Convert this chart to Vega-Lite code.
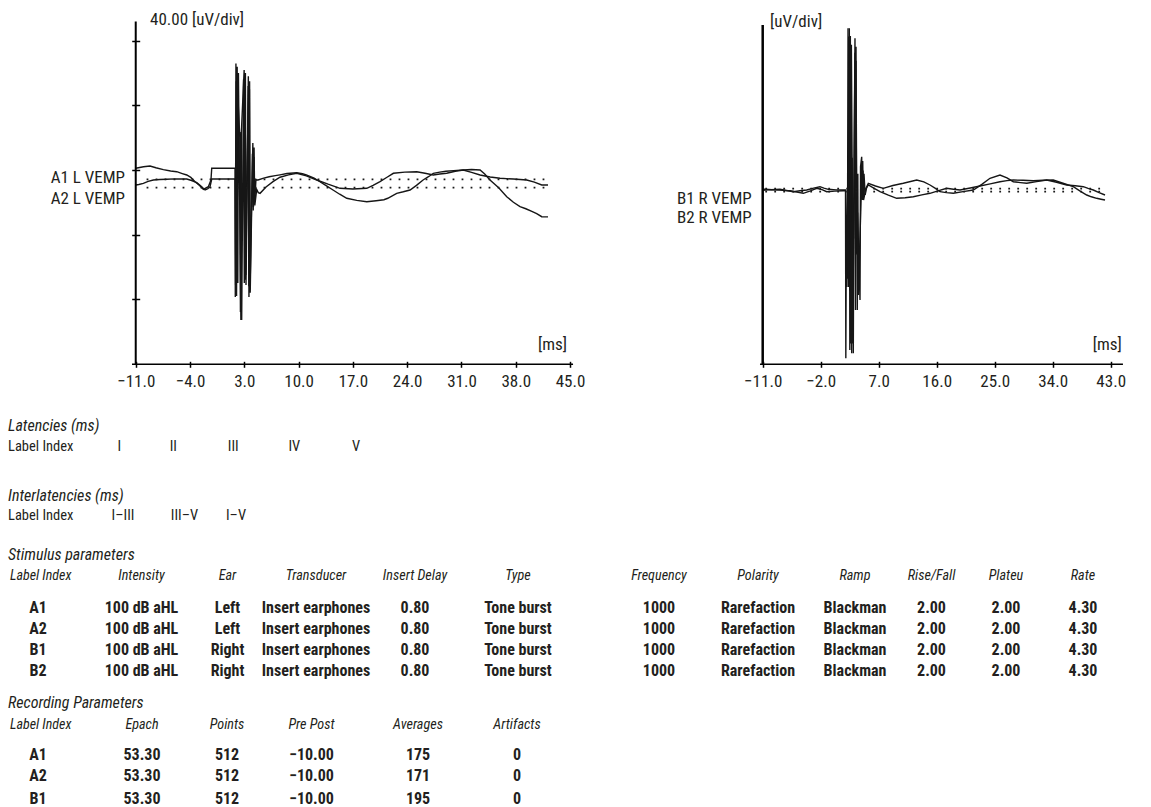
{
  "$schema": "https://vega.github.io/schema/vega-lite/v6.json",
  "background": "white",
  "padding": {"left": 8, "top": 10, "right": 0, "bottom": 0},
  "config": {
    "view": {"stroke": null},
    "font": "Roboto Condensed, Lato, sans-serif",
    "text": {"color": "#231f20", "font": "Roboto Condensed, Lato, sans-serif"},
    "axis": {"labelFont": "Roboto Condensed, Lato, sans-serif", "labelColor": "#231f20"}
  },
  "datasets": {
    "left": [
      {"trace":"A1","ms":-11.0,"uv":1.05},{"trace":"A1","ms":-10.0,"uv":2.0},{"trace":"A1","ms":-9.16,"uv":2.48},{"trace":"A1","ms":-8.4,"uv":1.4},{"trace":"A1","ms":-7.44,"uv":0.2},{"trace":"A1","ms":-6.5,"uv":-0.6},{"trace":"A1","ms":-5.71,"uv":-1.05},{"trace":"A1","ms":-5.0,"uv":-2.2},{"trace":"A1","ms":-4.42,"uv":-3.1},{"trace":"A1","ms":-3.9,"uv":-4.6},{"trace":"A1","ms":-3.35,"uv":-7.24},{"trace":"A1","ms":-2.8,"uv":-9.5},{"trace":"A1","ms":-2.28,"uv":-11.95},{"trace":"A1","ms":-1.64,"uv":-10.34},{"trace":"A1","ms":-1.3,"uv":-6.2},{"trace":"A1","ms":-1.2,"uv":1.05},{"trace":"A1","ms":1.8,"uv":1.05},
      {"trace":"A1","ms":1.84,"uv":-78.6},{"trace":"A1","ms":1.92,"uv":66.0},{"trace":"A1","ms":2.0,"uv":-78.0},{"trace":"A1","ms":2.08,"uv":64.0},{"trace":"A1","ms":2.16,"uv":-70.0},{"trace":"A1","ms":2.24,"uv":60.0},{"trace":"A1","ms":2.56,"uv":-92.9},{"trace":"A1","ms":2.62,"uv":23.5},{"trace":"A1","ms":2.98,"uv":61.9},{"trace":"A1","ms":3.06,"uv":-68.0},{"trace":"A1","ms":3.14,"uv":60.0},{"trace":"A1","ms":3.22,"uv":-71.2},{"trace":"A1","ms":3.52,"uv":58.0},{"trace":"A1","ms":3.6,"uv":-78.6},{"trace":"A1","ms":3.68,"uv":55.0},{"trace":"A1","ms":3.76,"uv":-76.0},{"trace":"A1","ms":4.1,"uv":16.7},{"trace":"A1","ms":4.18,"uv":-22.9},{"trace":"A1","ms":4.26,"uv":14.0},{"trace":"A1","ms":4.34,"uv":-20.0},{"trace":"A1","ms":4.5,"uv":-6.0},
      {"trace":"A1","ms":4.77,"uv":-6.19},{"trace":"A1","ms":5.5,"uv":-5.0},{"trace":"A1","ms":6.2,"uv":-4.2},{"trace":"A1","ms":7.0,"uv":-3.5},{"trace":"A1","ms":7.6,"uv":-3.0},{"trace":"A1","ms":8.5,"uv":-2.2},{"trace":"A1","ms":9.76,"uv":-1.67},{"trace":"A1","ms":10.5,"uv":-2.3},{"trace":"A1","ms":11.0,"uv":-3.0},{"trace":"A1","ms":12.0,"uv":-5.0},{"trace":"A1","ms":12.5,"uv":-6.5},{"trace":"A1","ms":13.5,"uv":-9.5},{"trace":"A1","ms":14.44,"uv":-12.38},{"trace":"A1","ms":15.3,"uv":-15.0},{"trace":"A1","ms":16.21,"uv":-17.52},{"trace":"A1","ms":17.5,"uv":-18.8},{"trace":"A1","ms":18.79,"uv":-19.63},{"trace":"A1","ms":20.0,"uv":-19.0},{"trace":"A1","ms":21.0,"uv":-18.4},{"trace":"A1","ms":21.5,"uv":-17.5},{"trace":"A1","ms":22.65,"uv":-14.43},{"trace":"A1","ms":23.5,"uv":-13.5},{"trace":"A1","ms":24.37,"uv":-12.38},{"trace":"A1","ms":25.2,"uv":-9.5},{"trace":"A1","ms":26.05,"uv":-6.19},{"trace":"A1","ms":26.8,"uv":-4.0},{"trace":"A1","ms":27.37,"uv":-2.04},{"trace":"A1","ms":28.2,"uv":-1.3},{"trace":"A1","ms":29.0,"uv":-0.8},{"trace":"A1","ms":30.0,"uv":-0.4},{"trace":"A1","ms":31.24,"uv":0.0},{"trace":"A1","ms":32.3,"uv":0.3},{"trace":"A1","ms":33.4,"uv":0.0},{"trace":"A1","ms":34.0,"uv":-2.5},{"trace":"A1","ms":34.68,"uv":-6.19},{"trace":"A1","ms":35.8,"uv":-11.0},{"trace":"A1","ms":36.84,"uv":-16.53},{"trace":"A1","ms":37.7,"uv":-20.0},{"trace":"A1","ms":38.55,"uv":-22.72},{"trace":"A1","ms":39.3,"uv":-24.0},{"trace":"A1","ms":40.0,"uv":-25.5},{"trace":"A1","ms":40.7,"uv":-27.0},{"trace":"A1","ms":41.35,"uv":-28.92},{"trace":"A1","ms":42.16,"uv":-29.0},
      {"trace":"A2","ms":-11.0,"uv":-9.29},{"trace":"A2","ms":-10.6,"uv":-9.0},{"trace":"A2","ms":-10.02,"uv":-8.24},{"trace":"A2","ms":-9.4,"uv":-7.0},{"trace":"A2","ms":-8.73,"uv":-6.19},{"trace":"A2","ms":-7.9,"uv":-5.9},{"trace":"A2","ms":-7.0,"uv":-5.76},{"trace":"A2","ms":-6.0,"uv":-5.5},{"trace":"A2","ms":-5.0,"uv":-5.6},{"trace":"A2","ms":-4.42,"uv":-5.57},{"trace":"A2","ms":-3.8,"uv":-6.5},{"trace":"A2","ms":-3.13,"uv":-7.86},{"trace":"A2","ms":-2.6,"uv":-10.0},{"trace":"A2","ms":-2.06,"uv":-12.38},{"trace":"A2","ms":-1.7,"uv":-11.5},{"trace":"A2","ms":-1.42,"uv":-10.34},{"trace":"A2","ms":-1.2,"uv":-5.57},{"trace":"A2","ms":1.8,"uv":-5.57},
      {"trace":"A2","ms":1.88,"uv":-71.2},{"trace":"A2","ms":1.96,"uv":55.0},{"trace":"A2","ms":2.04,"uv":-70.0},{"trace":"A2","ms":2.12,"uv":50.0},{"trace":"A2","ms":2.42,"uv":20.0},{"trace":"A2","ms":2.5,"uv":-88.0},{"trace":"A2","ms":2.58,"uv":23.5},{"trace":"A2","ms":2.66,"uv":-92.9},{"trace":"A2","ms":2.9,"uv":56.0},{"trace":"A2","ms":3.0,"uv":-70.0},{"trace":"A2","ms":3.1,"uv":58.0},{"trace":"A2","ms":3.2,"uv":-65.0},{"trace":"A2","ms":3.5,"uv":52.0},{"trace":"A2","ms":3.58,"uv":-72.0},{"trace":"A2","ms":3.66,"uv":50.0},{"trace":"A2","ms":3.74,"uv":-74.0},{"trace":"A2","ms":4.05,"uv":10.0},{"trace":"A2","ms":4.15,"uv":-25.0},{"trace":"A2","ms":4.25,"uv":8.0},{"trace":"A2","ms":4.35,"uv":-22.0},{"trace":"A2","ms":4.6,"uv":-12.0},{"trace":"A2","ms":4.8,"uv":-14.0},
      {"trace":"A2","ms":5.03,"uv":-14.43},{"trace":"A2","ms":5.8,"uv":-10.5},{"trace":"A2","ms":6.7,"uv":-7.24},{"trace":"A2","ms":7.6,"uv":-4.5},{"trace":"A2","ms":8.7,"uv":-3.0},{"trace":"A2","ms":9.76,"uv":-2.04},{"trace":"A2","ms":11.0,"uv":-3.6},{"trace":"A2","ms":12.34,"uv":-6.19},{"trace":"A2","ms":13.8,"uv":-8.8},{"trace":"A2","ms":15.34,"uv":-11.33},{"trace":"A2","ms":17.0,"uv":-11.8},{"trace":"A2","ms":18.79,"uv":-11.33},{"trace":"A2","ms":19.6,"uv":-9.5},{"trace":"A2","ms":20.5,"uv":-7.24},{"trace":"A2","ms":21.4,"uv":-4.5},{"trace":"A2","ms":22.22,"uv":-2.04},{"trace":"A2","ms":23.7,"uv":-1.3},{"trace":"A2","ms":25.23,"uv":-1.05},{"trace":"A2","ms":26.3,"uv":-2.0},{"trace":"A2","ms":27.37,"uv":-3.1},{"trace":"A2","ms":28.2,"uv":-2.5},{"trace":"A2","ms":29.1,"uv":-2.04},{"trace":"A2","ms":30.2,"uv":-0.8},{"trace":"A2","ms":31.24,"uv":0.0},{"trace":"A2","ms":32.3,"uv":-1.5},{"trace":"A2","ms":33.4,"uv":-3.1},{"trace":"A2","ms":34.7,"uv":-4.3},{"trace":"A2","ms":35.97,"uv":-5.14},{"trace":"A2","ms":37.7,"uv":-5.6},{"trace":"A2","ms":39.42,"uv":-6.19},{"trace":"A2","ms":40.4,"uv":-7.5},{"trace":"A2","ms":41.35,"uv":-9.29},{"trace":"A2","ms":42.16,"uv":-9.3}
    ],
    "right": [
      {"trace":"B1","ms":-11.0,"uv":0.43},{"trace":"B1","ms":-10.64,"uv":0.43},{"trace":"B1","ms":-9.5,"uv":0.2},{"trace":"B1","ms":-8.32,"uv":0.0},{"trace":"B1","ms":-7.5,"uv":-0.3},{"trace":"B1","ms":-6.76,"uv":-0.43},{"trace":"B1","ms":-5.7,"uv":-1.3},{"trace":"B1","ms":-4.7,"uv":-2.04},{"trace":"B1","ms":-3.6,"uv":-0.5},{"trace":"B1","ms":-2.62,"uv":1.05},{"trace":"B1","ms":-1.8,"uv":0.2},{"trace":"B1","ms":-1.07,"uv":-1.05},{"trace":"B1","ms":0.2,"uv":-0.7},{"trace":"B1","ms":1.51,"uv":-0.43},{"trace":"B1","ms":1.85,"uv":-0.43},
      {"trace":"B1","ms":1.9,"uv":-104.2},{"trace":"B1","ms":1.98,"uv":-26.6},{"trace":"B1","ms":2.06,"uv":-60.0},{"trace":"B1","ms":2.14,"uv":-28.0},{"trace":"B1","ms":2.22,"uv":-55.0},{"trace":"B1","ms":2.3,"uv":-30.0},{"trace":"B1","ms":2.44,"uv":100.1},{"trace":"B1","ms":2.52,"uv":-99.1},{"trace":"B1","ms":2.6,"uv":95.4},{"trace":"B1","ms":2.68,"uv":-95.0},{"trace":"B1","ms":2.76,"uv":90.0},{"trace":"B1","ms":3.06,"uv":-101.1},{"trace":"B1","ms":3.14,"uv":-10.0},{"trace":"B1","ms":3.32,"uv":93.9},{"trace":"B1","ms":3.4,"uv":-74.3},{"trace":"B1","ms":3.48,"uv":88.7},{"trace":"B1","ms":3.56,"uv":-20.0},{"trace":"B1","ms":3.64,"uv":-40.0},{"trace":"B1","ms":3.72,"uv":-14.0},{"trace":"B1","ms":4.1,"uv":-68.1},{"trace":"B1","ms":4.18,"uv":14.4},{"trace":"B1","ms":4.36,"uv":20.6},{"trace":"B1","ms":4.44,"uv":-6.2},{"trace":"B1","ms":4.52,"uv":18.0},{"trace":"B1","ms":4.6,"uv":-5.0},{"trace":"B1","ms":4.72,"uv":10.0},{"trace":"B1","ms":4.9,"uv":-3.0},{"trace":"B1","ms":5.14,"uv":2.0},
      {"trace":"B1","ms":5.39,"uv":4.15},{"trace":"B1","ms":6.5,"uv":2.5},{"trace":"B1","ms":7.71,"uv":1.05},{"trace":"B1","ms":9.2,"uv":2.8},{"trace":"B1","ms":10.82,"uv":4.15},{"trace":"B1","ms":12.9,"uv":6.19},{"trace":"B1","ms":14.0,"uv":5.0},{"trace":"B1","ms":14.96,"uv":3.1},{"trace":"B1","ms":15.8,"uv":1.0},{"trace":"B1","ms":16.51,"uv":-1.05},{"trace":"B1","ms":17.5,"uv":-1.6},{"trace":"B1","ms":18.58,"uv":-2.04},{"trace":"B1","ms":20.1,"uv":-1.0},{"trace":"B1","ms":21.68,"uv":0.0},{"trace":"B1","ms":23.0,"uv":3.5},{"trace":"B1","ms":24.27,"uv":7.24},{"trace":"B1","ms":25.82,"uv":9.29},{"trace":"B1","ms":26.9,"uv":7.5},{"trace":"B1","ms":27.89,"uv":5.14},{"trace":"B1","ms":29.0,"uv":4.6},{"trace":"B1","ms":29.97,"uv":4.15},{"trace":"B1","ms":31.5,"uv":5.2},{"trace":"B1","ms":33.07,"uv":6.19},{"trace":"B1","ms":34.6,"uv":4.8},{"trace":"B1","ms":36.17,"uv":3.1},{"trace":"B1","ms":37.5,"uv":2.6},{"trace":"B1","ms":38.75,"uv":2.04},{"trace":"B1","ms":39.5,"uv":1.0},{"trace":"B1","ms":40.3,"uv":0.0},{"trace":"B1","ms":41.2,"uv":-1.6},{"trace":"B1","ms":42.12,"uv":-3.1},
      {"trace":"B2","ms":-11.0,"uv":-0.2},{"trace":"B2","ms":-9.7,"uv":0.2},{"trace":"B2","ms":-8.32,"uv":0.43},{"trace":"B2","ms":-7.3,"uv":-0.3},{"trace":"B2","ms":-6.25,"uv":-1.05},{"trace":"B2","ms":-5.2,"uv":-0.5},{"trace":"B2","ms":-4.17,"uv":0.0},{"trace":"B2","ms":-3.1,"uv":1.2},{"trace":"B2","ms":-2.11,"uv":2.04},{"trace":"B2","ms":-1.5,"uv":1.2},{"trace":"B2","ms":-0.82,"uv":0.43},{"trace":"B2","ms":0.4,"uv":0.1},{"trace":"B2","ms":1.51,"uv":0.0},{"trace":"B2","ms":1.88,"uv":0.0},
      {"trace":"B2","ms":2.0,"uv":-26.6},{"trace":"B2","ms":2.08,"uv":-50.0},{"trace":"B2","ms":2.16,"uv":-30.0},{"trace":"B2","ms":2.24,"uv":100.1},{"trace":"B2","ms":2.32,"uv":-60.0},{"trace":"B2","ms":2.4,"uv":95.0},{"trace":"B2","ms":2.81,"uv":-101.1},{"trace":"B2","ms":2.89,"uv":20.0},{"trace":"B2","ms":2.97,"uv":-95.0},{"trace":"B2","ms":3.32,"uv":85.0},{"trace":"B2","ms":3.4,"uv":-30.0},{"trace":"B2","ms":3.48,"uv":80.0},{"trace":"B2","ms":3.68,"uv":-74.3},{"trace":"B2","ms":3.76,"uv":10.0},{"trace":"B2","ms":3.84,"uv":-65.0},{"trace":"B2","ms":4.41,"uv":14.4},{"trace":"B2","ms":4.49,"uv":-6.0},{"trace":"B2","ms":4.57,"uv":12.0},{"trace":"B2","ms":4.65,"uv":-6.2},{"trace":"B2","ms":5.0,"uv":0.5},
      {"trace":"B2","ms":5.39,"uv":3.1},{"trace":"B2","ms":6.3,"uv":1.0},{"trace":"B2","ms":7.2,"uv":-1.05},{"trace":"B2","ms":8.5,"uv":-3.2},{"trace":"B2","ms":9.79,"uv":-5.14},{"trace":"B2","ms":11.1,"uv":-4.8},{"trace":"B2","ms":12.37,"uv":-4.15},{"trace":"B2","ms":13.7,"uv":-3.0},{"trace":"B2","ms":14.96,"uv":-2.04},{"trace":"B2","ms":16.2,"uv":-0.5},{"trace":"B2","ms":17.55,"uv":1.05},{"trace":"B2","ms":18.6,"uv":0.5},{"trace":"B2","ms":19.62,"uv":0.0},{"trace":"B2","ms":21.2,"uv":1.2},{"trace":"B2","ms":22.72,"uv":2.48},{"trace":"B2","ms":24.3,"uv":3.8},{"trace":"B2","ms":25.82,"uv":5.14},{"trace":"B2","ms":26.9,"uv":5.8},{"trace":"B2","ms":27.89,"uv":6.19},{"trace":"B2","ms":29.4,"uv":6.0},{"trace":"B2","ms":30.99,"uv":5.76},{"trace":"B2","ms":32.5,"uv":6.0},{"trace":"B2","ms":34.09,"uv":6.19},{"trace":"B2","ms":35.6,"uv":4.2},{"trace":"B2","ms":37.2,"uv":2.04},{"trace":"B2","ms":38.2,"uv":-0.5},{"trace":"B2","ms":39.28,"uv":-3.1},{"trace":"B2","ms":40.0,"uv":-4.2},{"trace":"B2","ms":40.83,"uv":-5.14},{"trace":"B2","ms":41.5,"uv":-5.7},{"trace":"B2","ms":42.12,"uv":-6.19}
    ],
    "leftBase": [
      {"line":"A1","ms":-9.6,"uv":-5.76},{"line":"A1","ms":42.2,"uv":-5.76},
      {"line":"A2","ms":-9.6,"uv":-10.96},{"line":"A2","ms":42.2,"uv":-10.96}
    ],
    "rightBase": [
      {"line":"B1","ms":-10.6,"uv":0.9},{"line":"B1","ms":42.1,"uv":0.9},
      {"line":"B2","ms":-10.6,"uv":-1.0},{"line":"B2","ms":42.1,"uv":-1.0}
    ],
    "cells": [
      {"role":"section","line":0,"col":0,"text":"Latencies (ms)"},
      {"role":"latHead","line":1,"col":0,"text":"Label Index"},
      {"role":"latCol","line":1,"col":3,"text":"I"},
      {"role":"latCol","line":1,"col":4,"text":"II"},
      {"role":"latCol","line":1,"col":5,"text":"III"},
      {"role":"latCol","line":1,"col":6,"text":"IV"},
      {"role":"latCol","line":1,"col":7,"text":"V"},
      {"role":"section","line":2,"col":0,"text":"Interlatencies (ms)"},
      {"role":"latHead","line":3,"col":0,"text":"Label Index"},
      {"role":"latCol","line":3,"col":8,"text":"I–III"},
      {"role":"latCol","line":3,"col":9,"text":"III–V"},
      {"role":"latCol","line":3,"col":10,"text":"I–V"},
      {"role":"section","line":4,"col":0,"text":"Stimulus parameters"},
      {"role":"indexHead","line":5,"col":1,"text":"Label Index"},
      {"role":"colLabel","line":5,"col":11,"text":"Intensity"},
      {"role":"colLabel","line":5,"col":12,"text":"Ear"},
      {"role":"colLabel","line":5,"col":13,"text":"Transducer"},
      {"role":"colLabel","line":5,"col":14,"text":"Insert Delay"},
      {"role":"colLabel","line":5,"col":15,"text":"Type"},
      {"role":"colLabel","line":5,"col":16,"text":"Frequency"},
      {"role":"colLabel","line":5,"col":17,"text":"Polarity"},
      {"role":"colLabel","line":5,"col":18,"text":"Ramp"},
      {"role":"colLabel","line":5,"col":19,"text":"Rise/Fall"},
      {"role":"colLabel","line":5,"col":20,"text":"Plateu"},
      {"role":"colLabel","line":5,"col":21,"text":"Rate"},
      {"role":"cell","line":6,"col":2,"text":"A1"},{"role":"cell","line":6,"col":11,"text":"100 dB aHL"},{"role":"cell","line":6,"col":12,"text":"Left"},{"role":"cell","line":6,"col":13,"text":"Insert earphones"},{"role":"cell","line":6,"col":14,"text":"0.80"},{"role":"cell","line":6,"col":15,"text":"Tone burst"},{"role":"cell","line":6,"col":16,"text":"1000"},{"role":"cell","line":6,"col":17,"text":"Rarefaction"},{"role":"cell","line":6,"col":18,"text":"Blackman"},{"role":"cell","line":6,"col":19,"text":"2.00"},{"role":"cell","line":6,"col":20,"text":"2.00"},{"role":"cell","line":6,"col":21,"text":"4.30"},
      {"role":"cell","line":7,"col":2,"text":"A2"},{"role":"cell","line":7,"col":11,"text":"100 dB aHL"},{"role":"cell","line":7,"col":12,"text":"Left"},{"role":"cell","line":7,"col":13,"text":"Insert earphones"},{"role":"cell","line":7,"col":14,"text":"0.80"},{"role":"cell","line":7,"col":15,"text":"Tone burst"},{"role":"cell","line":7,"col":16,"text":"1000"},{"role":"cell","line":7,"col":17,"text":"Rarefaction"},{"role":"cell","line":7,"col":18,"text":"Blackman"},{"role":"cell","line":7,"col":19,"text":"2.00"},{"role":"cell","line":7,"col":20,"text":"2.00"},{"role":"cell","line":7,"col":21,"text":"4.30"},
      {"role":"cell","line":8,"col":2,"text":"B1"},{"role":"cell","line":8,"col":11,"text":"100 dB aHL"},{"role":"cell","line":8,"col":12,"text":"Right"},{"role":"cell","line":8,"col":13,"text":"Insert earphones"},{"role":"cell","line":8,"col":14,"text":"0.80"},{"role":"cell","line":8,"col":15,"text":"Tone burst"},{"role":"cell","line":8,"col":16,"text":"1000"},{"role":"cell","line":8,"col":17,"text":"Rarefaction"},{"role":"cell","line":8,"col":18,"text":"Blackman"},{"role":"cell","line":8,"col":19,"text":"2.00"},{"role":"cell","line":8,"col":20,"text":"2.00"},{"role":"cell","line":8,"col":21,"text":"4.30"},
      {"role":"cell","line":9,"col":2,"text":"B2"},{"role":"cell","line":9,"col":11,"text":"100 dB aHL"},{"role":"cell","line":9,"col":12,"text":"Right"},{"role":"cell","line":9,"col":13,"text":"Insert earphones"},{"role":"cell","line":9,"col":14,"text":"0.80"},{"role":"cell","line":9,"col":15,"text":"Tone burst"},{"role":"cell","line":9,"col":16,"text":"1000"},{"role":"cell","line":9,"col":17,"text":"Rarefaction"},{"role":"cell","line":9,"col":18,"text":"Blackman"},{"role":"cell","line":9,"col":19,"text":"2.00"},{"role":"cell","line":9,"col":20,"text":"2.00"},{"role":"cell","line":9,"col":21,"text":"4.30"},
      {"role":"section","line":10,"col":0,"text":"Recording Parameters"},
      {"role":"indexHead","line":11,"col":1,"text":"Label Index"},
      {"role":"colLabel","line":11,"col":22,"text":"Epach"},
      {"role":"colLabel","line":11,"col":23,"text":"Points"},
      {"role":"colLabel","line":11,"col":24,"text":"Pre Post"},
      {"role":"colLabel","line":11,"col":25,"text":"Averages"},
      {"role":"colLabel","line":11,"col":26,"text":"Artifacts"},
      {"role":"cell","line":12,"col":2,"text":"A1"},{"role":"cell","line":12,"col":22,"text":"53.30"},{"role":"cell","line":12,"col":23,"text":"512"},{"role":"cell","line":12,"col":24,"text":"−10.00"},{"role":"cell","line":12,"col":25,"text":"175"},{"role":"cell","line":12,"col":26,"text":"0"},
      {"role":"cell","line":13,"col":2,"text":"A2"},{"role":"cell","line":13,"col":22,"text":"53.30"},{"role":"cell","line":13,"col":23,"text":"512"},{"role":"cell","line":13,"col":24,"text":"−10.00"},{"role":"cell","line":13,"col":25,"text":"171"},{"role":"cell","line":13,"col":26,"text":"0"},
      {"role":"cell","line":14,"col":2,"text":"B1"},{"role":"cell","line":14,"col":22,"text":"53.30"},{"role":"cell","line":14,"col":23,"text":"512"},{"role":"cell","line":14,"col":24,"text":"−10.00"},{"role":"cell","line":14,"col":25,"text":"195"},{"role":"cell","line":14,"col":26,"text":"0"}
    ]
  },
  "spacing": 9.7,
  "vconcat": [
    {
      "bounds": "flush",
      "spacing": 65,
      "hconcat": [
        {
          "width": 567,
          "height": 354.3,
          "layer": [
            {
              "data": {"name": "left"},
              "mark": {"type": "line", "color": "#161616", "strokeWidth": 1.4},
              "encoding": {
                "x": {"field": "ms", "type": "quantitative", "scale": {"domain": [-27.47, 45.64], "nice": false, "zero": false},
                  "axis": {"values": [-11, -4, 3, 10, 17, 24, 31, 38, 45], "format": ".1f", "domain": false, "grid": false, "ticks": true, "labels": true, "tickSize": 6, "tickWidth": 1.5, "tickColor": "black", "offset": -3, "labelPadding": 6, "labelFontSize": 17, "labelOverlap": false, "labelFlush": false, "labelBound": false, "title": null}},
                "y": {"field": "uv", "type": "quantitative", "scale": {"domain": [-120.31, 99.07], "nice": false, "zero": false},
                  "axis": {"values": [-80, -40, 0, 40, 80], "labels": false, "domain": false, "grid": false, "ticks": true, "tickSize": 8, "tickWidth": 1.5, "tickColor": "black", "offset": -131.7, "title": null}},
                "detail": {"field": "trace"}
              }
            },
            {
              "data": {"name": "leftBase"},
              "mark": {"type": "line", "color": "#1a1a1a", "strokeWidth": 1.8, "strokeDash": [1.8, 7.2]},
              "encoding": {
                "x": {"field": "ms", "type": "quantitative"},
                "y": {"field": "uv", "type": "quantitative"},
                "detail": {"field": "line"}
              }
            },
            {
              "data": {"values": [{}]},
              "mark": {"type": "rule", "strokeWidth": 2, "color": "black"},
              "encoding": {"x": {"datum": -11}, "y": {"datum": 92}, "y2": {"datum": -120.31}}
            },
            {
              "data": {"values": [{}]},
              "mark": {"type": "rule", "strokeWidth": 1.6, "color": "black"},
              "encoding": {"x": {"datum": -11.48}, "x2": {"datum": 45.39}, "y": {"datum": -120.31}}
            },
            {
              "data": {"values": [{}]},
              "mark": {"type": "text", "align": "left", "baseline": "middle", "fontSize": 17},
              "encoding": {"x": {"datum": -9.16}, "y": {"datum": 92.9}, "text": {"value": "40.00 [uV/div]"}}
            },
            {
              "data": {"values": [{}]},
              "mark": {"type": "text", "align": "right", "baseline": "middle", "fontSize": 17},
              "encoding": {"x": {"datum": 44.61}, "y": {"datum": -108.4}, "text": {"value": "[ms]"}}
            },
            {
              "data": {"values": [{}]},
              "mark": {"type": "text", "align": "right", "baseline": "middle", "fontSize": 17},
              "encoding": {"x": {"datum": -12.38}, "y": {"datum": -4.77}, "text": {"value": "A1 L VEMP"}}
            },
            {
              "data": {"values": [{}]},
              "mark": {"type": "text", "align": "right", "baseline": "middle", "fontSize": 17},
              "encoding": {"x": {"datum": -12.38}, "y": {"datum": -18.14}, "text": {"value": "A2 L VEMP"}}
            }
          ]
        },
        {
          "width": 485,
          "height": 354.3,
          "layer": [
            {
              "data": {"name": "right"},
              "mark": {"type": "line", "color": "#161616", "strokeWidth": 1.4},
              "encoding": {
                "x": {"field": "ms", "type": "quantitative", "scale": {"domain": [-30.04, 45.22], "nice": false, "zero": false},
                  "axis": {"values": [-11, -2, 7, 16, 25, 34, 43], "format": ".1f", "domain": false, "grid": false, "ticks": true, "labels": true, "tickSize": 6, "tickWidth": 1.5, "tickColor": "black", "offset": -3, "labelPadding": 6, "labelFontSize": 17, "labelOverlap": false, "labelFlush": false, "labelBound": false, "title": null}},
                "y": {"field": "uv", "type": "quantitative", "scale": {"domain": [-107.93, 111.46], "nice": false, "zero": false}, "axis": null},
                "detail": {"field": "trace"}
              }
            },
            {
              "data": {"name": "rightBase"},
              "mark": {"type": "line", "color": "#1a1a1a", "strokeWidth": 1.8, "strokeDash": [1.8, 7.2]},
              "encoding": {
                "x": {"field": "ms", "type": "quantitative"},
                "y": {"field": "uv", "type": "quantitative", "axis": null},
                "detail": {"field": "line"}
              }
            },
            {
              "data": {"values": [{}]},
              "mark": {"type": "rule", "strokeWidth": 2.5, "color": "black"},
              "encoding": {"x": {"datum": -11}, "y": {"datum": 102.2, "axis": null}, "y2": {"datum": -107.93}}
            },
            {
              "data": {"values": [{}]},
              "mark": {"type": "rule", "strokeWidth": 1.6, "color": "black"},
              "encoding": {"x": {"datum": -11.42}, "x2": {"datum": 44.9}, "y": {"datum": -107.93, "axis": null}}
            },
            {
              "data": {"values": [{}]},
              "mark": {"type": "text", "align": "left", "baseline": "middle", "fontSize": 17},
              "encoding": {"x": {"datum": -9.87}, "y": {"datum": 104.2, "axis": null}, "text": {"value": "[uV/div]"}}
            },
            {
              "data": {"values": [{}]},
              "mark": {"type": "text", "align": "right", "baseline": "middle", "fontSize": 17},
              "encoding": {"x": {"datum": 44.71}, "y": {"datum": -96.0, "axis": null}, "text": {"value": "[ms]"}}
            },
            {
              "data": {"values": [{}]},
              "mark": {"type": "text", "align": "right", "baseline": "middle", "fontSize": 17},
              "encoding": {"x": {"datum": -12.71}, "y": {"datum": -5.76, "axis": null}, "text": {"value": "B1 R VEMP"}}
            },
            {
              "data": {"values": [{}]},
              "mark": {"type": "text", "align": "right", "baseline": "middle", "fontSize": 17},
              "encoding": {"x": {"datum": -12.71}, "y": {"datum": -17.52, "axis": null}, "text": {"value": "B2 R VEMP"}}
            }
          ]
        }
      ]
    },
    {
      "width": 1143,
      "height": 398,
      "data": {"name": "cells"},
      "encoding": {
        "x": {"field": "col", "type": "quantitative", "axis": null,
          "scale": {"domain": [0,1,2,3,4,5,6,7,8,9,10,11,12,13,14,15,16,17,18,19,20,21,22,23,24,25,26],
                    "range": [0,2,30,111.3,165.3,225.3,286.3,348,115,176.5,228,133.5,219.5,308,407,510,651,750,847,923.5,998,1075,134,219,303.5,410,509], "nice": false, "zero": false}},
        "y": {"field": "line", "type": "quantitative", "axis": null,
          "scale": {"domain": [0,1,2,3,4,5,6,7,8,9,10,11,12,13,14],
                    "range": [26.7,47.7,96,116.7,155,176.7,208.3,229,250.7,271,303.3,325.7,355,376.7,398.8], "nice": false, "zero": false}},
        "text": {"field": "text"}
      },
      "layer": [
        {"transform": [{"filter": "datum.role == 'section'"}], "mark": {"type": "text", "align": "left", "baseline": "middle", "fontStyle": "italic", "fontSize": 16}},
        {"transform": [{"filter": "datum.role == 'latHead'"}], "mark": {"type": "text", "align": "left", "baseline": "middle", "fontSize": 14.5}},
        {"transform": [{"filter": "datum.role == 'latCol'"}], "mark": {"type": "text", "align": "center", "baseline": "middle", "fontSize": 14.5}},
        {"transform": [{"filter": "datum.role == 'indexHead'"}], "mark": {"type": "text", "align": "left", "baseline": "middle", "fontStyle": "italic", "fontSize": 14}},
        {"transform": [{"filter": "datum.role == 'colLabel'"}], "mark": {"type": "text", "align": "center", "baseline": "middle", "fontStyle": "italic", "fontSize": 14.2}},
        {"transform": [{"filter": "datum.role == 'cell'"}], "mark": {"type": "text", "align": "center", "baseline": "middle", "fontWeight": "bold", "fontSize": 16}}
      ]
    }
  ]
}
